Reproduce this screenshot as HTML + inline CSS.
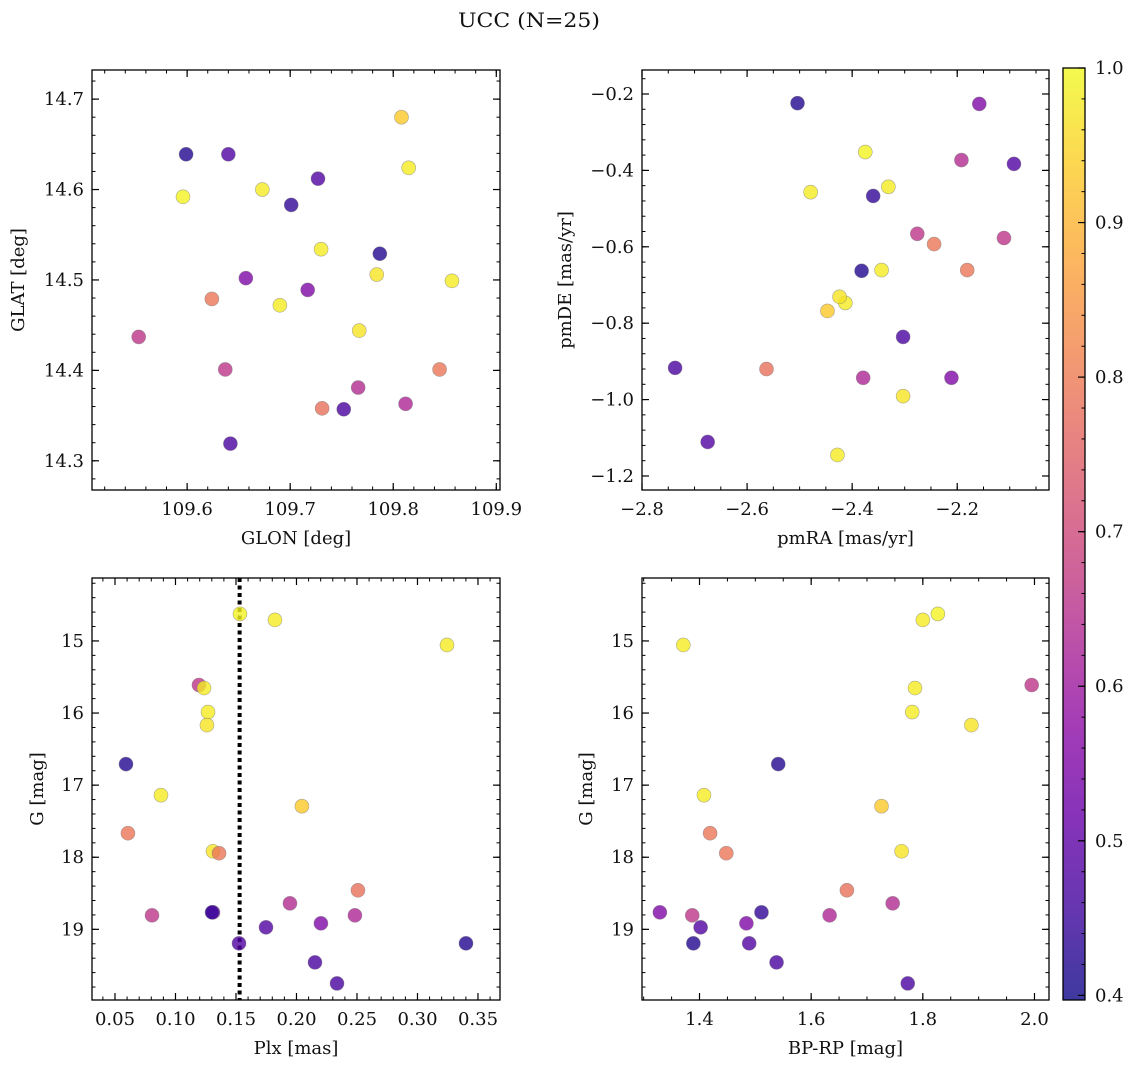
<!DOCTYPE html>
<html><head><meta charset="utf-8"><style>
body{margin:0;background:#fff;}
svg text{font-family:"DejaVu Serif","Liberation Serif",serif;fill:#111;}
</style></head><body>
<svg id="fig" xmlns="http://www.w3.org/2000/svg" width="1136" height="1068" viewBox="0 0 1136 1068">
<rect width="1136" height="1068" fill="#fff"/>
<text x="529" y="27" font-size="20" text-anchor="middle" textLength="142" lengthAdjust="spacingAndGlyphs">UCC (N=25)</text>
</svg>
<script>
// Star table (25 members)
const glon=[109.596,109.673,109.815,109.553,109.730,109.690,109.784,109.599,109.857,109.808,109.624,109.767,109.845,109.731,109.637,109.657,109.701,109.766,109.812,109.717,109.727,109.640,109.787,109.752,109.642];
const glat=[14.592,14.600,14.624,14.437,14.534,14.472,14.506,14.639,14.499,14.680,14.479,14.444,14.401,14.358,14.401,14.502,14.583,14.381,14.363,14.489,14.612,14.639,14.529,14.357,14.319];
const pmra=[-2.375,-2.479,-2.331,-2.276,-2.344,-2.413,-2.303,-2.504,-2.428,-2.447,-2.244,-2.424,-2.181,-2.563,-2.111,-2.158,-2.360,-2.192,-2.379,-2.211,-2.092,-2.675,-2.382,-2.737,-2.303];
const pmde=[-0.352,-0.457,-0.443,-0.566,-0.661,-0.747,-0.991,-0.224,-1.145,-0.768,-0.593,-0.731,-0.661,-0.920,-0.577,-0.226,-0.467,-0.373,-0.943,-0.943,-0.383,-1.111,-0.663,-0.917,-0.836];
const plx=[0.1533,0.1822,0.3244,0.1194,0.1236,0.1269,0.1260,0.0591,0.0880,0.2045,0.0607,0.1310,0.1360,0.2508,0.0806,0.1310,0.1302,0.1946,0.2483,0.2202,0.1748,0.1525,0.3401,0.2153,0.2335];
const gmag=[14.625,14.708,15.056,15.611,15.653,15.986,16.167,16.708,17.139,17.292,17.667,17.917,17.944,18.458,18.806,18.764,18.764,18.639,18.806,18.917,18.972,19.194,19.194,19.458,19.75];
const bprp=[1.827,1.800,1.371,1.995,1.786,1.781,1.887,1.541,1.408,1.726,1.419,1.762,1.448,1.664,1.387,1.329,1.511,1.746,1.633,1.484,1.402,1.489,1.389,1.538,1.773];
const prob=[0.99,0.98,0.98,0.66,0.98,0.98,0.97,0.42,0.98,0.93,0.79,0.97,0.79,0.78,0.66,0.55,0.44,0.64,0.63,0.55,0.48,0.48,0.42,0.47,0.47];
const plxLine=0.153;
// Tick values
const tickGlon=[109.6,109.7,109.8,109.9];
const tickGlat=[14.3,14.4,14.5,14.6,14.7];
const tickPmra=[-2.8,-2.6,-2.4,-2.2];
const tickPmde=[-1.2,-1.0,-0.8,-0.6,-0.4,-0.2];
const tickPlx=[0.05,0.10,0.15,0.20,0.25,0.30,0.35];
const tickG=[15,16,17,18,19];
const tickBprp=[1.4,1.6,1.8,2.0];
const tickCbar=[0.4,0.5,0.6,0.7,0.8,0.9,1.0];

const NS='http://www.w3.org/2000/svg';
const svg=document.getElementById('fig');
const FS=18;
function mk(tag,attrs,parent){const e=document.createElementNS(NS,tag);for(const k in attrs)e.setAttribute(k,attrs[k]);(parent||svg).appendChild(e);return e;}
const VMIN=0.397,VMAX=1.0;
const plasma=[[13,8,135],[65,4,157],[106,0,168],[143,13,164],[177,42,144],[204,71,120],[225,100,98],[242,132,75],[252,166,54],[252,206,37],[240,249,33]];
function cmap(v){let t=(v-VMIN)/(VMAX-VMIN);t=Math.max(0,Math.min(1,t));const s=t*10,i=Math.min(9,Math.floor(s)),f=s-i;const a=plasma[i],b=plasma[i+1];return 'rgb('+a.map((c,k)=>Math.round(c+(b[k]-c)*f)).join(',')+')';}
function fmt(v,d){return (v<0?'\u2212':'')+Math.abs(v).toFixed(d);}

function panel(o){
  const g=mk('g',{});
  
  
  const sx=v=>o.l+(v-o.x0)/(o.x1-o.x0)*(o.r-o.l);
  const sy=v=>o.inv? o.t+(v-o.y0)/(o.y1-o.y0)*(o.b-o.t) : o.b-(v-o.y0)/(o.y1-o.y0)*(o.b-o.t);
  const mt=mk('g',{stroke:'#000','stroke-width':1},g);
  for(let v=Math.ceil(o.x0/o.xm-1e-9)*o.xm; v<=o.x1+1e-9; v+=o.xm){const x=sx(v);mk('line',{x1:x,x2:x,y1:o.b,y2:o.b-3.5},mt);mk('line',{x1:x,x2:x,y1:o.t,y2:o.t+3.5},mt);}
  const ylo=Math.min(o.y0,o.y1),yhi=Math.max(o.y0,o.y1);
  for(let v=Math.ceil(ylo/o.ym-1e-9)*o.ym; v<=yhi+1e-9; v+=o.ym){const y=sy(v);mk('line',{y1:y,y2:y,x1:o.l,x2:o.l+3.5},mt);mk('line',{y1:y,y2:y,x1:o.r,x2:o.r-3.5},mt);}
  o.xt.forEach(v=>{const x=sx(v);
    mk('line',{x1:x,x2:x,y1:o.b,y2:o.b-7,stroke:'#000','stroke-width':1.2},g);
    mk('line',{x1:x,x2:x,y1:o.t,y2:o.t+7,stroke:'#000','stroke-width':1.2},g);
    const t=mk('text',{x:x,y:o.b+25,'font-size':FS,'text-anchor':'middle'},g);t.textContent=fmt(v,o.xd);
    
    
  });
  o.yt.forEach(v=>{const y=sy(v);
    mk('line',{y1:y,y2:y,x1:o.l,x2:o.l+7,stroke:'#000','stroke-width':1.2},g);
    mk('line',{y1:y,y2:y,x1:o.r,x2:o.r-7,stroke:'#000','stroke-width':1.2},g);
    const t=mk('text',{x:o.l-8,y:y+6,'font-size':FS,'text-anchor':'end'},g);t.textContent=fmt(v,o.yd);
    
    
  });
  if(o.vline!==undefined){const x=sx(o.vline);const ln=mk('line',{x1:x,x2:x,y1:o.t,y2:o.b,stroke:'#000','stroke-width':4,'stroke-dasharray':'4,3.5'},g);
    
    }
  o.xs.forEach((xv,i)=>{
    const c=mk('circle',{cx:sx(xv),cy:sy(o.ys[i]),r:7,fill:cmap(prob[i]),'fill-opacity':0.8,stroke:'#777','stroke-opacity':0.6,'stroke-width':0.6},g);
    
    
  });
  mk('rect',{x:o.l,y:o.t,width:o.r-o.l,height:o.b-o.t,fill:'none',stroke:'#000','stroke-width':1.3},g);
  const xl=mk('text',{x:(o.l+o.r)/2,y:o.b+54,'font-size':FS,'text-anchor':'middle'},g);xl.textContent=o.xlab;
  
  
  const yl=mk('text',{x:0,y:0,'font-size':FS,'text-anchor':'middle',transform:'translate('+o.ylx+','+(o.t+o.b)/2+') rotate(-90)'},g);yl.textContent=o.ylab;
  
  
}
panel({name:'glon-glat-panel',l:92,r:500,t:70,b:490,x0:109.5077,x1:109.9036,y0:14.2677,y1:14.7322,xm:0.02,ym:0.02,xt:tickGlon,yt:tickGlat,xd:1,yd:1,xs:glon,ys:glat,xlab:'GLON [deg]',ylab:'GLAT [deg]',ylx:24});
panel({name:'pm-panel',l:642,r:1049,t:70,b:490,x0:-2.8,x1:-2.0253,y0:-1.2367,y1:-0.1372,xm:0.05,ym:0.04,xt:tickPmra,yt:tickPmde,xd:1,yd:1,xs:pmra,ys:pmde,xlab:'pmRA [mas/yr]',ylab:'pmDE [mas/yr]',ylx:571});
panel({name:'plx-g-panel',l:92,r:500,t:578,b:1000,x0:0.031,x1:0.3682,y0:14.127,y1:19.98,inv:true,xm:0.01,ym:0.2,xt:tickPlx,yt:tickG,xd:2,yd:0,xs:plx,ys:gmag,xlab:'Plx [mas]',ylab:'G [mag]',ylx:43,vline:plxLine});
panel({name:'cmd-panel',l:642,r:1049,t:578,b:1000,x0:1.297,x1:2.026,y0:14.127,y1:19.98,inv:true,xm:0.05,ym:0.2,xt:tickBprp,yt:tickG,xd:1,yd:0,xs:bprp,ys:gmag,xlab:'BP-RP [mag]',ylab:'G [mag]',ylx:592});

// colorbar
const cb=mk('g',{});


const defs=mk('defs',{},cb);
const lg=mk('linearGradient',{id:'cbg',x1:0,y1:1,x2:0,y2:0},defs);
for(let k=0;k<=20;k++){const v=VMIN+(VMAX-VMIN)*k/20;mk('stop',{offset:k/20,'stop-color':cmap(v),'stop-opacity':0.8},lg);}
const CT=68,CB=1000,CL=1063,CR=1085;
const cy=v=>CB-(v-VMIN)/(VMAX-VMIN)*(CB-CT);
mk('rect',{x:CL,y:CT,width:CR-CL,height:CB-CT,fill:'url(#cbg)'},cb);
for(let v=0.4;v<=1.0001;v+=0.02){const y=cy(v);mk('line',{x1:CR,x2:CR-3.5,y1:y,y2:y,stroke:'#000','stroke-width':1},cb);}
tickCbar.forEach(v=>{const y=cy(v);mk('line',{x1:CR,x2:CR-7,y1:y,y2:y,stroke:'#000','stroke-width':1.2},cb);
  const t=mk('text',{x:CR+10,y:y+6,'font-size':FS},cb);t.textContent=v.toFixed(1);
  
  
});
mk('rect',{x:CL,y:CT,width:CR-CL,height:CB-CT,fill:'none',stroke:'#000','stroke-width':1.3},cb);
</script>
</body></html>
